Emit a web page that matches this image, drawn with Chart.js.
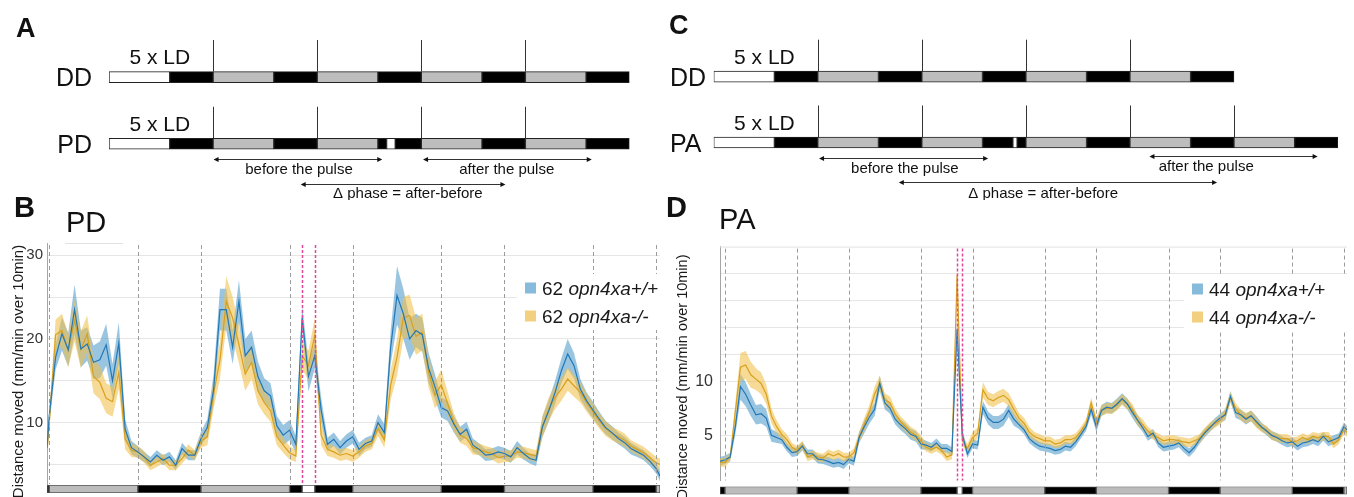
<!DOCTYPE html>
<html>
<head>
<meta charset="utf-8">
<script src="https://cdn.jsdelivr.net/npm/chart.js@4.4.1/dist/chart.umd.min.js"></script>
<style>
  body { margin: 0; background: #fff; width: 1354px; height: 497px; overflow: hidden; position: relative;
         font-family: "Liberation Sans", Arial, sans-serif; color: #111; }
  canvas { position: absolute; }
  .tag { position: absolute; font-weight: bold; line-height: 1; }
  .ttl { position: absolute; line-height: 1; }
</style>
</head>
<body>
<canvas id="schemA" width="665" height="200" style="left:0;top:0"></canvas>
<canvas id="schemC" width="689" height="200" style="left:665px;top:0"></canvas>
<canvas id="chartB" width="670" height="267" style="left:0;top:230px"></canvas>
<canvas id="chartD" width="689" height="267" style="left:665px;top:230px"></canvas>
<canvas id="stripB" width="670" height="12" style="left:0;top:483px"></canvas>
<canvas id="stripD" width="689" height="13" style="left:665px;top:484px"></canvas>

<div class="tag" style="left:16px;top:15px;font-size:27px">A</div>
<div class="tag" style="left:669px;top:12px;font-size:27px">C</div>
<div class="tag" style="left:14px;top:193px;font-size:29px">B</div>
<div class="tag" style="left:666px;top:193px;font-size:29px">D</div>
<div class="ttl" style="left:66px;top:208px;font-size:29px">PD</div>
<div class="ttl" style="left:719px;top:205px;font-size:29px">PA</div>

<script>
Chart.defaults.font.family = '"Liberation Sans", Arial, sans-serif';
Chart.defaults.color = '#222';

// ---------- schematics (hours from start of the recording) ----------
const rowsA = ['DD', 'PD'];
const rowsC = ['DD', 'PA'];

const whiteA = [['DD', 0, 14], ['PD', 0, 14], ['PD', 64, 66]];
const grayA = [['DD', 24, 38], ['DD', 48, 62], ['DD', 72, 86], ['DD', 96, 110],
               ['PD', 24, 38], ['PD', 48, 62], ['PD', 72, 86], ['PD', 96, 110]];
const blackA = [['DD', 14, 24], ['DD', 38, 48], ['DD', 62, 72], ['DD', 86, 96], ['DD', 110, 120],
                ['PD', 14, 24], ['PD', 38, 48], ['PD', 62, 64], ['PD', 66, 72], ['PD', 86, 96], ['PD', 110, 120]];

const whiteC = [['DD', 0, 14], ['PA', 0, 14], ['PA', 69, 70]];
const grayC = [['DD', 24, 38], ['DD', 48, 62], ['DD', 72, 86], ['DD', 96, 110],
               ['PA', 24, 38], ['PA', 48, 62], ['PA', 72, 86], ['PA', 96, 110], ['PA', 120, 134]];
const blackC = [['DD', 14, 24], ['DD', 38, 48], ['DD', 62, 72], ['DD', 86, 96], ['DD', 110, 120],
                ['PA', 14, 24], ['PA', 38, 48], ['PA', 62, 69], ['PA', 70, 72], ['PA', 86, 96],
                ['PA', 110, 120], ['PA', 134, 144]];

const dawnA = [[24, 48, 72, 96], [24, 48, 72, 96]];
const dawnC = [[24, 48, 72, 96], [24, 48, 72, 96, 120]];

const arrowText = ['before the pulse', 'after the pulse', '\u0394 phase = after-before'];
const arrowsA = [[24.1, 63], [72.4, 111.3], [44.2, 91.4]];
const arrowLabelA = [43.8, 91.7, 68.9];
const arrowsC = [[24.3, 63.3], [100.5, 139.3], [42.7, 116.1]];
const arrowLabelC = [44.1, 113.6, 76];

// ---------- panel B (PD), hourly means and SEM ----------
const hoursB = [-0.36,
  0, 1, 2, 3, 4, 5, 6, 7, 8, 9, 10, 11, 12, 13, 14, 15, 16, 17, 18, 19,
  20, 21, 22, 23, 24, 25, 26, 27, 28, 29, 30, 31, 32, 33, 34, 35, 36, 37, 38, 39,
  40, 41, 42, 43, 44, 45, 46, 47, 48, 49, 50, 51, 52, 53, 54, 55, 56, 57, 58, 59,
  60, 61, 62, 63, 64, 65, 66, 67, 68, 69, 70, 71, 72, 73, 74, 75, 76, 77, 78, 79,
  80, 81, 82, 83, 84, 85, 86, 87, 88, 89, 90, 91, 92, 93, 94, 95, 96, 96.6];
const wtB = [7.0,
  10.8, 17.8, 20.6, 18.7, 23.5, 18.8, 19.4, 17.2, 17.5, 19.3, 15.0, 19.5, 9.2, 7.0, 6.5, 5.9, 5.3, 6.1, 5.5, 5.9,
  4.9, 6.9, 6.1, 6.1, 8.1, 9.4, 14.0, 23.5, 23.5, 19.0, 24.5, 18.0, 19.0, 15.5, 13.8, 13.2, 9.6, 8.5, 9.1, 7.4,
  22.5, 15.5, 18.0, 11.5, 7.4, 8.0, 7.0, 7.8, 8.3, 6.8, 7.5, 7.8, 10.0, 8.8, 19.0, 25.2, 23.0, 20.0, 21.0, 20.5,
  16.5, 14.3, 11.8, 11.4, 9.8, 8.6, 9.2, 7.3, 6.8, 6.1, 6.2, 6.5, 6.3, 5.9, 7.0, 6.3, 5.7, 5.5, 9.5, 11.4,
  13.6, 16.2, 18.2, 16.8, 14.0, 12.6, 11.5, 10.4, 9.4, 8.8, 8.1, 7.6, 6.9, 6.5, 6.1, 5.4, 4.5, 3.6];
const wtSemB = [0.8,
  1.0, 1.5, 2.0, 2.0, 3.0, 2.2, 2.0, 2.0, 2.2, 2.5, 2.0, 2.5, 1.2, 0.8, 0.7, 0.6, 0.6, 0.6, 0.6, 0.6,
  0.6, 0.7, 0.6, 0.6, 0.8, 1.0, 1.8, 2.5, 2.5, 2.0, 2.5, 2.0, 2.0, 1.8, 1.5, 1.5, 1.2, 1.2, 1.2, 1.0,
  1.5, 1.8, 1.5, 1.5, 0.8, 0.8, 0.8, 0.8, 0.8, 0.8, 0.7, 0.7, 1.0, 1.0, 2.0, 3.5, 3.0, 2.5, 2.0, 2.0,
  1.8, 1.5, 1.2, 1.2, 1.0, 0.9, 0.9, 0.8, 0.7, 0.7, 0.7, 0.7, 0.7, 0.7, 0.8, 0.7, 0.6, 0.7, 1.2, 1.3,
  1.4, 1.5, 1.8, 1.5, 1.2, 1.0, 1.0, 0.9, 0.8, 0.8, 0.7, 0.7, 0.7, 0.6, 0.6, 0.6, 0.6, 0.6];
const koB = [6.5,
  10.0, 20.5, 21.0, 18.6, 22.2, 18.7, 20.6, 15.5, 14.8, 12.9, 12.5, 16.0, 8.0, 6.7, 6.5, 5.9, 4.9, 5.3, 5.7, 4.9,
  4.9, 5.7, 6.7, 6.1, 7.8, 8.3, 13.5, 17.5, 24.5, 22.5, 19.3, 15.8, 17.2, 13.8, 12.4, 11.4, 8.3, 7.3, 6.4, 6.0,
  18.0, 16.8, 20.5, 8.5, 6.8, 6.5, 6.1, 6.3, 6.0, 6.5, 7.2, 7.5, 9.3, 7.9, 14.5, 17.8, 22.5, 22.8, 20.3, 20.8,
  16.0, 13.3, 14.5, 12.3, 10.0, 8.5, 8.1, 7.0, 6.8, 6.5, 6.3, 5.8, 6.0, 6.0, 6.5, 6.4, 6.2, 6.0, 9.5, 11.6,
  13.0, 14.0, 15.2, 14.4, 13.6, 12.4, 11.3, 10.2, 9.3, 8.7, 8.3, 7.9, 7.2, 6.8, 6.4, 5.8, 5.2, 5.0];
const koSemB = [0.8,
  1.0, 1.8, 2.0, 2.0, 2.5, 2.2, 2.2, 2.0, 2.0, 1.8, 1.8, 2.0, 1.2, 0.8, 0.7, 0.7, 0.6, 0.6, 0.6, 0.6,
  0.6, 0.6, 0.7, 0.6, 0.8, 1.0, 1.8, 2.2, 3.0, 2.5, 2.2, 2.0, 2.0, 1.6, 1.4, 1.3, 1.0, 0.9, 0.8, 0.7,
  1.6, 1.8, 2.0, 1.2, 0.8, 0.7, 0.7, 0.7, 0.7, 0.7, 0.7, 0.7, 0.9, 0.9, 1.8, 2.2, 2.5, 2.5, 2.2, 2.2,
  1.8, 1.6, 1.8, 1.4, 1.1, 0.9, 0.9, 0.8, 0.7, 0.7, 0.7, 0.7, 0.7, 0.7, 0.7, 0.7, 0.7, 0.7, 1.3, 1.4,
  1.4, 1.4, 1.4, 1.3, 1.2, 1.1, 1.0, 0.9, 0.9, 0.8, 0.8, 0.8, 0.7, 0.7, 0.7, 0.7, 0.7, 0.7];

// light schedule shown under B: subjective day (gray), night (black), light pulse (white)
const stripGrayB = [[0, 14], [24, 38], [48, 62], [72, 86], [96, 96.6]];
const stripBlackB = [[-0.36, 0], [14, 24], [38, 40], [42, 48], [62, 72], [86, 96]];
const stripWhiteB = [[40, 42]];
const edgesB = [0, 14, 24, 38, 48, 62, 72, 86, 96];
const pulseB = [40, 42];
const legendNB = [62, 62];

// ---------- panel D (PA) ----------
const hoursD = [-0.97,
  0, 1, 2, 3, 4, 5, 6, 7, 8, 9, 10, 11, 12, 13, 14, 15, 16, 17, 18, 19,
  20, 21, 22, 23, 24, 25, 26, 27, 28, 29, 30, 31, 32, 33, 34, 35, 36, 37, 38, 39,
  40, 41, 42, 43, 44, 45, 46, 47, 48, 49, 50, 51, 52, 53, 54, 55, 56, 57, 58, 59,
  60, 61, 62, 63, 64, 65, 66, 67, 68, 69, 70, 71, 72, 73, 74, 75, 76, 77, 78, 79,
  80, 81, 82, 83, 84, 85, 86, 87, 88, 89, 90, 91, 92, 93, 94, 95, 96, 97, 98, 99,
  100, 101, 102, 103, 104, 105, 106, 107, 108, 109, 110, 111, 112, 113, 114, 115, 116, 117, 118, 119,
  120, 120.6];
const wtD = [2.6,
  2.75, 3.0, 5.8, 9.5, 8.8, 7.8, 6.9, 7.0, 6.6, 5.0, 4.8, 4.6, 3.9, 3.4, 3.5, 4.0, 3.3, 3.3, 2.8, 2.75,
  2.6, 2.4, 2.5, 2.3, 2.8, 2.6, 4.8, 5.8, 6.7, 7.4, 9.8, 8.0, 7.5, 6.5, 6.0, 5.6, 5.1, 4.9, 4.2, 4.1,
  3.9, 4.3, 3.8, 3.8, 3.5, 14.8, 5.1, 3.3, 4.2, 4.1, 7.6, 6.6, 6.2, 6.2, 6.5, 7.3, 6.5, 6.0, 5.5, 4.7,
  4.3, 4.0, 3.9, 3.8, 3.6, 3.7, 4.0, 3.9, 4.4, 5.1, 5.8, 7.4, 5.8, 7.3, 7.6, 7.5, 7.9, 8.4, 7.9, 7.1,
  6.4, 5.7, 4.9, 5.2, 4.3, 3.9, 4.0, 4.1, 4.3, 3.8, 3.4, 3.9, 4.6, 5.2, 5.7, 6.2, 6.6, 6.9, 8.6, 7.1,
  6.9, 6.5, 6.8, 6.3, 5.8, 5.4, 5.0, 4.8, 4.5, 4.3, 4.4, 4.0, 4.3, 4.4, 4.6, 4.4, 4.9, 4.4, 4.6, 4.8,
  5.8, 5.5];
const wtSemD = [0.4,
  0.4, 0.4, 0.7, 1.2, 1.1, 1.0, 0.9, 0.9, 0.8, 0.6, 0.5, 0.4, 0.4, 0.4, 0.4, 0.4, 0.4, 0.4, 0.4, 0.4,
  0.4, 0.4, 0.4, 0.4, 0.4, 0.4, 0.5, 0.6, 0.6, 0.6, 0.7, 0.6, 0.5, 0.5, 0.5, 0.5, 0.5, 0.5, 0.5, 0.4,
  0.4, 0.4, 0.4, 0.4, 0.4, 1.0, 0.5, 0.4, 0.4, 0.4, 0.6, 0.6, 0.6, 0.6, 0.6, 0.6, 0.6, 0.4, 0.4, 0.4,
  0.4, 0.4, 0.4, 0.4, 0.4, 0.4, 0.4, 0.4, 0.4, 0.4, 0.4, 0.5, 0.5, 0.5, 0.5, 0.5, 0.5, 0.5, 0.5, 0.5,
  0.5, 0.4, 0.4, 0.4, 0.4, 0.4, 0.4, 0.4, 0.4, 0.4, 0.4, 0.4, 0.4, 0.4, 0.4, 0.4, 0.4, 0.5, 0.5, 0.5,
  0.5, 0.5, 0.5, 0.5, 0.4, 0.4, 0.4, 0.4, 0.4, 0.4, 0.4, 0.4, 0.4, 0.4, 0.4, 0.4, 0.4, 0.4, 0.4, 0.4,
  0.4, 0.4];
const koD = [2.5,
  2.5, 3.0, 7.2, 11.3, 11.5, 10.6, 10.2, 9.8, 8.8, 6.8, 5.8, 5.1, 4.6, 3.9, 3.6, 4.1, 3.0, 3.2, 3.0, 2.9,
  3.3, 3.1, 3.3, 3.0, 3.0, 3.4, 4.8, 6.0, 7.2, 8.8, 9.8, 8.3, 8.0, 7.0, 6.3, 5.8, 5.3, 5.0, 4.5, 3.9,
  3.7, 3.9, 3.6, 3.0, 3.2, 19.8, 4.6, 3.8, 4.8, 5.2, 9.2, 8.4, 8.2, 8.5, 8.7, 8.3, 7.4, 6.6, 6.1, 5.3,
  4.9, 4.7, 4.5, 4.5, 4.2, 4.3, 4.6, 4.6, 4.8, 5.4, 6.1, 8.0, 6.2, 7.3, 7.5, 7.5, 7.8, 8.3, 7.9, 7.4,
  6.4, 6.0, 5.4, 5.0, 4.8, 4.5, 4.6, 4.6, 4.5, 4.4, 4.3, 4.5, 4.7, 5.3, 5.8, 6.1, 6.4, 7.0, 8.5, 7.5,
  6.9, 6.6, 6.8, 6.2, 5.7, 5.5, 5.0, 4.8, 4.7, 4.7, 4.4, 4.5, 4.8, 4.6, 4.9, 4.8, 4.9, 4.9, 4.2, 4.6,
  5.5, 5.3];
const koSemD = [0.4,
  0.4, 0.4, 0.8, 1.3, 1.3, 1.2, 1.0, 1.0, 0.9, 0.7, 0.6, 0.5, 0.5, 0.4, 0.4, 0.4, 0.4, 0.4, 0.4, 0.4,
  0.4, 0.4, 0.4, 0.4, 0.4, 0.4, 0.5, 0.6, 0.6, 0.7, 0.7, 0.6, 0.6, 0.5, 0.5, 0.5, 0.5, 0.5, 0.5, 0.4,
  0.4, 0.4, 0.4, 0.4, 0.4, 1.2, 0.5, 0.4, 0.5, 0.5, 0.7, 0.6, 0.6, 0.6, 0.6, 0.6, 0.6, 0.5, 0.5, 0.5,
  0.4, 0.4, 0.4, 0.4, 0.4, 0.4, 0.4, 0.4, 0.4, 0.4, 0.4, 0.5, 0.5, 0.5, 0.5, 0.5, 0.5, 0.5, 0.5, 0.5,
  0.5, 0.5, 0.4, 0.4, 0.4, 0.4, 0.4, 0.4, 0.4, 0.4, 0.4, 0.4, 0.4, 0.4, 0.4, 0.4, 0.4, 0.5, 0.5, 0.5,
  0.5, 0.5, 0.5, 0.5, 0.4, 0.4, 0.4, 0.4, 0.4, 0.4, 0.4, 0.4, 0.4, 0.4, 0.4, 0.4, 0.4, 0.4, 0.4, 0.4,
  0.4, 0.4];

const stripGrayD = [[0, 14], [24, 38], [48, 62], [72, 86], [96, 110], [120, 120.6]];
const stripBlackD = [[-0.97, 0], [14, 24], [38, 45], [46, 48], [62, 72], [86, 96], [110, 120]];
const stripWhiteD = [[45, 46]];
const edgesD = [0, 14, 24, 38, 48, 62, 72, 86, 96, 110, 120];
const pulseD = [45, 46];
const legendND = [44, 44];

const genotypes = ['opn4xa+/+', 'opn4xa-/-'];

// ---------- colours ----------
const BLUE = '#2378b5', BLUE_BAND = 'rgba(92,162,206,0.62)', BLUE_KEY = '#86bbdb';
const GOLD = '#d9a01e', GOLD_BAND = 'rgba(240,192,72,0.58)', GOLD_KEY = '#f3d07f';
const FONT = '"Liberation Sans", Arial, sans-serif';

// ---------- plugins ----------
const schematicDecor = {
  id: 'schematicDecor',
  afterDatasetsDraw(chart, args, o) {
    const { ctx, chartArea } = chart;
    const xs = chart.scales.x, ys = chart.scales.y;
    ctx.save();
    ctx.fillStyle = '#111';
    ctx.strokeStyle = '#333';
    ctx.lineWidth = 1;
    chart.data.labels.forEach((r, i) => {
      const y = ys.getPixelForValue(i);
      ctx.font = '25px ' + FONT;
      ctx.textAlign = o.rowAlign;
      ctx.fillText(r, chartArea.left + o.rowDx, y + 9);
      ctx.font = '21px ' + FONT;
      ctx.textAlign = 'center';
      ctx.fillText('5 x LD', xs.getPixelForValue(o.ldAt), y - 13);
      o.lines[i].forEach(h => {
        const x = Math.round(xs.getPixelForValue(h)) + 0.5;
        ctx.beginPath(); ctx.moveTo(x, y - 37); ctx.lineTo(x, y - 5.5); ctx.stroke();
      });
    });
    const yb = ys.getPixelForValue(chart.data.labels.length - 1);
    ctx.font = '15px ' + FONT;
    ctx.textAlign = 'center';
    o.arrows.forEach((a, k) => {
      const x0 = xs.getPixelForValue(a[0]), x1 = xs.getPixelForValue(a[1]);
      const y = Math.round(yb + o.dy[k]) + 0.5;
      ctx.beginPath(); ctx.moveTo(x0 + 2, y); ctx.lineTo(x1 - 2, y); ctx.stroke();
      [[x0, 1], [x1, -1]].forEach(([x, d]) => {
        ctx.beginPath(); ctx.moveTo(x, y); ctx.lineTo(x + 5 * d, y - 2.5); ctx.lineTo(x + 5 * d, y + 2.5);
        ctx.closePath(); ctx.fill();
      });
      ctx.fillText(o.texts[k], xs.getPixelForValue(o.textAt[k]), yb + o.ty[k]);
    });
    ctx.restore();
  }
};

const traceDecor = {
  id: 'traceDecor',
  beforeDatasetsDraw(chart, args, o) {
    const { ctx, chartArea: a } = chart;
    ctx.save();
    ctx.strokeStyle = '#e2e2e2';
    ctx.lineWidth = 1;
    ctx.beginPath();
    ctx.moveTo(o.topRule[0], a.top + 0.5); ctx.lineTo(o.topRule[1], a.top + 0.5);
    ctx.stroke();
    ctx.restore();
  },
  afterDatasetsDraw(chart, args, o) {
    const { ctx, chartArea: a } = chart;
    const xs = chart.scales.x;
    ctx.save();
    const vline = (h, color, dash, w) => {
      const x = Math.round(xs.getPixelForValue(h)) + 0.5;
      ctx.strokeStyle = color; ctx.lineWidth = w; ctx.setLineDash(dash);
      ctx.beginPath(); ctx.moveTo(x, a.top + 2); ctx.lineTo(x, a.bottom); ctx.stroke();
    };
    o.edges.forEach(h => vline(h, '#9c9c9c', [4, 3], 1));
    o.pulse.forEach(h => vline(h, '#e0489b', [3, 2], 1.5));
    ctx.setLineDash([]);

    // legend (canvas coordinates)
    const L = o.legend;
    const sx = a.right - L.fromRight;
    ctx.fillStyle = '#fff';
    ctx.fillRect(sx - 8, L.y0 - 14, a.right - sx + 8, L.dy + 28);
    [BLUE_KEY, GOLD_KEY].forEach((c, k) => {
      const y = L.y0 + k * L.dy;
      ctx.fillStyle = c;
      ctx.fillRect(sx, y - 5.5, 11, 11);
      ctx.fillStyle = '#1a1a1a';
      ctx.textAlign = 'left';
      ctx.textBaseline = 'alphabetic';
      ctx.font = '19px ' + FONT;
      const lead = L.n[k] + ' ';
      ctx.fillText(lead, sx + 17, y + 7);
      const w = ctx.measureText(lead).width;
      ctx.font = 'italic 19px ' + FONT;
      ctx.fillText(genotypes[k], sx + 17 + w, y + 7);
    });

    // y-axis title
    ctx.translate(o.title.x, o.title.y);
    ctx.rotate(-Math.PI / 2);
    ctx.font = o.title.size + 'px ' + FONT;
    ctx.fillStyle = '#1a1a1a';
    ctx.textAlign = 'center';
    ctx.textBaseline = 'middle';
    ctx.fillText('Distance moved (mm/min over 10min)', 0, 0);
    ctx.restore();
  }
};

// ---------- builders ----------
function segs(list) {
  return list.map(s => ({ y: s[0], x: [s[1], s[2]] }));
}

function schematic(id, rows, white, gray, black, xMax, pad, opts) {
  const common = { borderColor: '#222', borderWidth: 1, borderSkipped: false, barThickness: 11, grouped: false };
  new Chart(document.getElementById(id), {
    type: 'bar',
    data: {
      labels: rows,
      datasets: [
        Object.assign({ data: segs(white), backgroundColor: '#ffffff' }, common),
        Object.assign({ data: segs(gray), backgroundColor: '#bdbdbd' }, common),
        Object.assign({ data: segs(black), backgroundColor: '#000000' }, common)
      ]
    },
    options: {
      indexAxis: 'y', responsive: false, animation: false, events: [],
      layout: { padding: pad },
      scales: {
        x: { type: 'linear', min: 0, max: xMax, display: false },
        y: { type: 'category', display: false }
      },
      plugins: { legend: { display: false }, tooltip: { enabled: false }, schematicDecor: opts }
    },
    plugins: [schematicDecor]
  });
}

function points(hours, vals, sem, sign) {
  return hours.map((h, i) => ({ x: h, y: vals[i] + sign * (sem ? sem[i] : 0) }));
}

function traces(id, hours, wt, wtSem, ko, koSem, cfg) {
  const hidden = { pointRadius: 0, borderWidth: 1, borderColor: 'rgba(0,0,0,0)', tension: 0 };
  new Chart(document.getElementById(id), {
    type: 'line',
    data: {
      datasets: [
        { data: points(hours, wt, null, 0), borderColor: BLUE, borderWidth: 1.2, pointRadius: 0, fill: false, tension: 0 },
        { data: points(hours, ko, null, 0), borderColor: GOLD, borderWidth: 1.2, pointRadius: 0, fill: false, tension: 0 },
        Object.assign({ data: points(hours, ko, koSem, 1), fill: false }, hidden),
        Object.assign({ data: points(hours, ko, koSem, -1), fill: '-1', backgroundColor: GOLD_BAND }, hidden),
        Object.assign({ data: points(hours, wt, wtSem, 1), fill: false }, hidden),
        Object.assign({ data: points(hours, wt, wtSem, -1), fill: '-1', backgroundColor: BLUE_BAND }, hidden)
      ]
    },
    options: {
      responsive: false, animation: false, events: [],
      layout: { padding: cfg.pad },
      scales: {
        x: { type: 'linear', min: cfg.xMin, max: cfg.xMax, display: false },
        y: {
          type: 'linear', min: cfg.yMin, max: cfg.yMax,
          afterFit: s => { s.width = cfg.axisW; },
          ticks: { stepSize: cfg.step, includeBounds: false, padding: cfg.tickPad,
                   font: { size: cfg.tickSize }, color: '#333',
                   callback: v => (cfg.shown.includes(v) ? String(v) : '') },
          grid: { color: '#e6e6e6', drawTicks: false },
          border: { display: true, color: '#a5a5a5' }
        }
      },
      plugins: { legend: { display: false }, tooltip: { enabled: false }, traceDecor: cfg.decor }
    },
    plugins: [traceDecor]
  });
}

function strip(id, gray, black, white, xMin, xMax, pad) {
  const common = { borderColor: '#555', borderWidth: 1, borderSkipped: false, barThickness: 8, grouped: false };
  const toBars = list => list.map(s => ({ y: 'LD', x: s }));
  new Chart(document.getElementById(id), {
    type: 'bar',
    data: {
      labels: ['LD'],
      datasets: [
        Object.assign({ data: toBars(gray), backgroundColor: '#bcbcbc' }, common),
        Object.assign({ data: toBars(black), backgroundColor: '#000' }, common),
        Object.assign({ data: toBars(white), backgroundColor: '#fff' }, common)
      ]
    },
    options: {
      indexAxis: 'y', responsive: false, animation: false, events: [],
      layout: { padding: pad },
      scales: { x: { type: 'linear', min: xMin, max: xMax, display: false }, y: { display: false } },
      plugins: { legend: { display: false }, tooltip: { enabled: false } }
    }
  });
}

// ---------- draw ----------
schematic('schemA', rowsA, whiteA, grayA, blackA, 120,
  { left: 109, right: 35.5, top: 43.7, bottom: 22.9 },
  { rowAlign: 'right', rowDx: -17, ldAt: 11.7, lines: dawnA,
    arrows: arrowsA, texts: arrowText, textAt: arrowLabelA,
    dy: [15.6, 15.6, 40.3], ty: [30.3, 30.3, 54.3] });

schematic('schemC', rowsC, whiteC, grayC, blackC, 144,
  { left: 48.7, right: 16, top: 43.8, bottom: 24.6 },
  { rowAlign: 'left', rowDx: -43.7, ldAt: 11.7, lines: dawnC,
    arrows: arrowsC, texts: arrowText, textAt: arrowLabelC,
    dy: [15.5, 13.5, 39.5], ty: [30, 28, 55] });

traces('chartB', hoursB, wtB, wtSemB, koB, koSemB, {
  pad: { top: 11, bottom: 13, right: 10, left: 0 }, axisW: 47, tickPad: 4, tickSize: 15,
  xMin: -0.36, xMax: 96.6, yMin: 2.66, yMax: 31.46, step: 5, shown: [10, 20, 30],
  decor: { edges: edgesB, pulse: pulseB, topRule: [65, 123],
           legend: { fromRight: 135, y0: 58, dy: 28, n: legendNB },
           title: { x: 18.5, y: 141.5, size: 15 } }
});

traces('chartD', hoursD, wtD, wtSemD, koD, koSemD, {
  pad: { top: 10, bottom: 14, right: 7, left: 0 }, axisW: 55, tickPad: 7, tickSize: 16,
  xMin: -0.97, xMax: 120.6, yMin: 0.84, yMax: 22.44, step: 2.5, shown: [5, 10],
  decor: { edges: edgesD, pulse: pulseD, topRule: [55, 682],
           legend: { fromRight: 155, y0: 59, dy: 28, n: legendND },
           title: { x: 17.5, y: 147, size: 14.5 } }
});

strip('stripB', stripGrayB, stripBlackB, stripWhiteB, -0.36, 96.6, { left: 47, right: 10, top: 2, bottom: 2 });
strip('stripD', stripGrayD, stripBlackD, stripWhiteD, -0.97, 120.6, { left: 55, right: 7, top: 2.5, bottom: 2.5 });
</script>
</body>
</html>
